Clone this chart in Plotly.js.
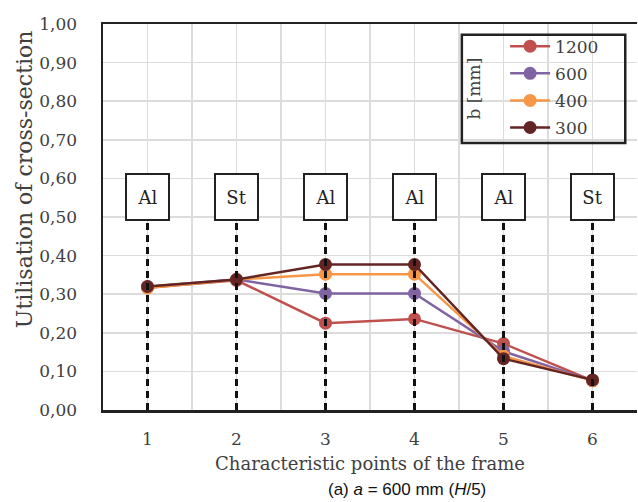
<!DOCTYPE html>
<html>
<head>
<meta charset="utf-8">
<script src="https://cdn.plot.ly/plotly-3.0.1.min.js"></script>
<style>html,body{margin:0;padding:0;background:#fff;}#chart{width:638px;height:502px;}</style>
</head>
<body>
<div id="chart"></div>
<script>
const categories = [1, 2, 3, 4, 5, 6];
const materials = ["Al", "St", "Al", "Al", "Al", "St"];
const seriesNames = ["1200", "600", "400", "300"];
const b1200 = [0.317, 0.336, 0.225, 0.236, 0.172, 0.076];
const b600 = [0.319, 0.338, 0.302, 0.302, 0.152, 0.076];
const b400 = [0.316, 0.338, 0.352, 0.352, 0.140, 0.076];
const b300 = [0.320, 0.338, 0.377, 0.377, 0.133, 0.078];
const seriesColors = ["#C0504D", "#8064A2", "#F79646", "#632523"];
const yTicks = [0, 0.1, 0.2, 0.3, 0.4, 0.5, 0.6, 0.7, 0.8, 0.9, 1.0];

const serif = "DejaVu Serif";
const txt = "#404040";
const values = [b1200, b600, b400, b300];

const traces = values.map((v, i) => ({
  type: "scatter", mode: "lines+markers",
  x: categories, y: v, name: seriesNames[i],
  legendgroup: "g" + i,
  line: {color: seriesColors[i], width: 2.5},
  marker: {color: seriesColors[i], size: 13}
}));

const shapes = categories.map(c => ({
  type: "line", xref: "x", yref: "y", x0: c, x1: c, y0: 0, y1: 0.49,
  line: {color: "#111", width: 3, dash: "7px,5px"}, layer: "above"
}));
shapes.push({
  type: "rect", xref: "paper", yref: "paper",
  x0: 0.672, x1: 0.978, y0: 0.692, y1: 0.972,
  line: {color: "#222", width: 2.5}, fillcolor: "rgba(255,255,255,0)", layer: "above"
});

const annotations = categories.map((c, i) => ({
  x: c, y: 0.553, xref: "x", yref: "y", text: materials[i], showarrow: false,
  font: {family: serif, size: 18, color: "#222"},
  bgcolor: "#fff", bordercolor: "#222", borderwidth: 2, borderpad: 0,
  width: 41, height: 44, valign: "middle", align: "center"
}));
annotations.push({
  x: 0.694, y: 0.832, xref: "paper", yref: "paper", xanchor: "center", yanchor: "middle",
  text: "b [mm]", textangle: -90,
  showarrow: false, font: {family: serif, size: 17, color: txt}
});
annotations.push({
  x: -0.148, y: 0.598, xref: "paper", yref: "paper", xanchor: "center", yanchor: "middle",
  text: "Utilisation of cross-section", textangle: -90,
  showarrow: false, font: {family: serif, size: 22, color: txt}
});
annotations.push({
  x: 0.569, y: -0.207, xref: "paper", yref: "paper", xanchor: "center", yanchor: "middle",
  text: "(a) <i>a</i> = 600 mm (<i>H</i>/5)", showarrow: false,
  font: {family: "Liberation Sans", size: 17, color: "#111"}
});

const layout = {
  width: 638, height: 502,
  margin: {l: 103, r: 1, t: 24, b: 92},
  paper_bgcolor: "#fff", plot_bgcolor: "#fff",
  showlegend: true,
  legend: {
    x: 0.753, y: 0.988, xanchor: "left", yanchor: "top",
    bgcolor: "rgba(255,255,255,0)", borderwidth: 0,
    font: {family: serif, size: 17, color: txt},
    tracegroupgap: 2, itemwidth: 40
  },
  separators: ",.",
  xaxis: {
    range: [0.5, 6.5], tickvals: categories, ticktext: categories.map(String),
    showgrid: true, gridcolor: "#dcdcdc", gridwidth: 1.5,
    minor: {dtick: 0.5, tick0: 0.5, showgrid: true, gridcolor: "#dcdcdc", gridwidth: 1.5},
    showline: true, mirror: true, linecolor: "#222", linewidth: 2.5,
    ticks: "", ticklabelstandoff: 12,
    tickfont: {family: serif, size: 17, color: txt},
    zeroline: false,
    title: {text: "Characteristic points of the frame", standoff: 10,
            font: {family: serif, size: 18, color: txt}}
  },
  yaxis: {
    range: [0, 1], tickvals: yTicks, tickformat: ".2f",
    showgrid: true, gridcolor: "#dcdcdc", gridwidth: 1.5,
    showline: true, linecolor: "#222", linewidth: 2.5,
    ticks: "", ticklabelstandoff: 20,
    tickfont: {family: serif, size: 17, color: txt},
    zeroline: false
  },
  shapes: shapes,
  annotations: annotations
};

Plotly.newPlot("chart", traces, layout, {displayModeBar: false, staticPlot: true});
</script>
</body>
</html>
